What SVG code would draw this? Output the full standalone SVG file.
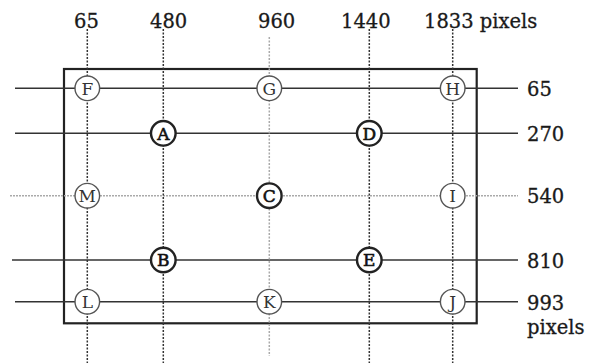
<svg xmlns="http://www.w3.org/2000/svg" width="610" height="363" viewBox="0 0 610 363">
<style>
  .lbl { font-family: "DejaVu Serif", "Liberation Serif", serif; font-size: 19.5px; fill: #1a1a1a; stroke: #1a1a1a; stroke-width: 0.3; }
  .h { stroke: #333; stroke-width: 1.6; fill: none; }
  .hl { stroke: #aaa; stroke-width: 1.6; fill: none; stroke-dasharray: 2 1; }
  .v { stroke: #333; stroke-width: 1.5; fill: none; stroke-dasharray: 2 1.5; }
  .vl { stroke: #aaa; stroke-width: 1.5; fill: none; stroke-dasharray: 2 1.5; }
  .frame { stroke: #222; stroke-width: 2.2; fill: none; }
  .c { fill: #fff; stroke: #555; stroke-width: 1.4; }
  .cb { fill: #fff; stroke: #222; stroke-width: 2.4; }
  .t { font-family: "DejaVu Serif", "Liberation Serif", serif; font-size: 17px; fill: #333; text-anchor: middle; }
  .tb { font-family: "DejaVu Serif", "Liberation Serif", serif; font-size: 17px; fill: #111; stroke: #111; stroke-width: 0.6; text-anchor: middle; }
</style>
<rect width="610" height="363" fill="#fff"/>
<g id="labels">
  <text class="lbl" x="74" y="28">65</text>
  <text class="lbl" x="150" y="28">480</text>
  <text class="lbl" x="258" y="28">960</text>
  <text class="lbl" x="341" y="28">1440</text>
  <text class="lbl" x="424" y="28">1833 pixels</text>
  <text class="lbl" x="527" y="96">65</text>
  <text class="lbl" x="527" y="141">270</text>
  <text class="lbl" x="527" y="203">540</text>
  <text class="lbl" x="527" y="268">810</text>
  <text class="lbl" x="527" y="310">993</text>
  <text class="lbl" x="527" y="334">pixels</text>
</g>
<g id="frame">
  <rect class="frame" x="64" y="69" width="412.7" height="254.3"/>
</g>
<g id="connectors">
  <line class="h" x1="15" y1="88.3" x2="518" y2="88.3"/>
  <line class="h" x1="15" y1="133.3" x2="518" y2="133.3"/>
  <line class="hl" x1="10" y1="195.7" x2="518" y2="195.7"/>
  <line class="h" x1="12" y1="260" x2="518" y2="260"/>
  <line class="h" x1="15" y1="301.7" x2="518" y2="301.7"/>
  <line class="v" x1="87.3" y1="29" x2="87.3" y2="363"/>
  <line class="v" x1="163.3" y1="29" x2="163.3" y2="363"/>
  <line class="vl" x1="269.3" y1="37" x2="269.3" y2="356"/>
  <line class="v" x1="369.3" y1="29" x2="369.3" y2="363"/>
  <line class="v" x1="452.7" y1="29" x2="452.7" y2="363"/>
</g>
<g id="node-F"><circle class="c" cx="87.3" cy="88.3" r="12.3"/><text class="t" x="87.3" y="94.5">F</text></g>
<g id="node-G"><circle class="c" cx="269.3" cy="88.3" r="12.3"/><text class="t" x="269.3" y="94.5">G</text></g>
<g id="node-H"><circle class="c" cx="452.7" cy="88.3" r="12.3"/><text class="t" x="452.7" y="94.5">H</text></g>
<g id="node-A"><circle class="cb" cx="163.3" cy="133.3" r="12.3"/><text class="tb" x="163.3" y="139.5">A</text></g>
<g id="node-D"><circle class="cb" cx="369.3" cy="133.3" r="12.3"/><text class="tb" x="369.3" y="139.5">D</text></g>
<g id="node-M"><circle class="c" cx="87.3" cy="195.7" r="12.3"/><text class="t" x="87.3" y="201.9">M</text></g>
<g id="node-C"><circle class="cb" cx="269.3" cy="195.7" r="12.3"/><text class="tb" x="269.3" y="201.9">C</text></g>
<g id="node-I"><circle class="c" cx="452.7" cy="195.7" r="12.3"/><text class="t" x="452.7" y="201.9">I</text></g>
<g id="node-B"><circle class="cb" cx="163.3" cy="260" r="12.3"/><text class="tb" x="163.3" y="266.2">B</text></g>
<g id="node-E"><circle class="cb" cx="369.3" cy="260" r="12.3"/><text class="tb" x="369.3" y="266.2">E</text></g>
<g id="node-L"><circle class="c" cx="87.3" cy="301.7" r="12.3"/><text class="t" x="87.3" y="307.9">L</text></g>
<g id="node-K"><circle class="c" cx="269.3" cy="301.7" r="12.3"/><text class="t" x="269.3" y="307.9">K</text></g>
<g id="node-J"><circle class="c" cx="452.7" cy="301.7" r="12.3"/><text class="t" x="452.7" y="307.9">J</text></g>
</svg>
